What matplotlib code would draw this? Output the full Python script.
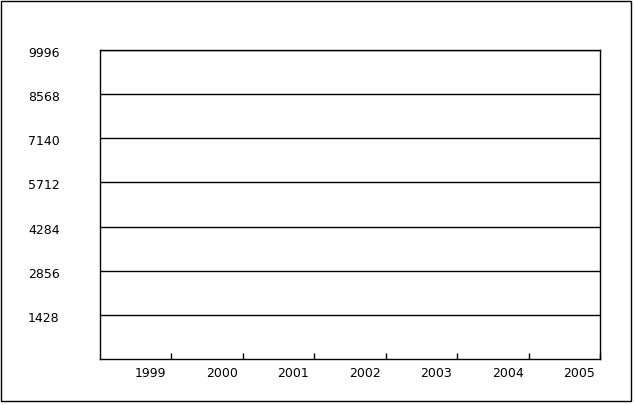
import matplotlib
matplotlib.use('Agg')
import matplotlib.pyplot as plt
import matplotlib.transforms as mtransforms
from matplotlib.patches import Rectangle

years = ['1999', '2000', '2001', '2002', '2003', '2004', '2005']
y_ticks = [1428, 2856, 4284, 5712, 7140, 8568, 9996]
y_max = 9996

W, H = 635, 405
fig = plt.figure(figsize=(W / 100, H / 100), dpi=100)
fig.patch.set_facecolor('white')

# outer frame
fig.add_artist(Rectangle((0.5 / W, 1 - 400.5 / H), 630 / W, 400 / H,
                         transform=fig.transFigure, fill=False,
                         edgecolor='black', linewidth=1))

ax = fig.add_axes([100 / W, (H - 359) / H, 500 / W, 309 / H])
ax.set_xlim(0, len(years))
ax.set_ylim(0, y_max)

for v in y_ticks:
    ax.axhline(v, color='black', linewidth=1)

for s in ax.spines.values():
    s.set_linewidth(1)
    s.set_color('black')

# x: tick marks at category boundaries, labels right-aligned just left of them
ax.set_xticks(range(1, len(years) + 1))
ax.set_xticklabels(years, fontsize=9, ha='right')
ax.tick_params(axis='x', direction='in', length=4.3, width=1, pad=6)
shift = mtransforms.ScaledTranslation(-5 / 100, 0, fig.dpi_scale_trans)
for lab in ax.get_xticklabels():
    lab.set_transform(lab.get_transform() + shift)

# y: labels left-aligned far to the left of the axis
ax.set_yticks(y_ticks)
ax.set_yticklabels([str(v) for v in y_ticks], fontsize=9, ha='left')
ax.tick_params(axis='y', length=0, pad=72 * 0.72)
yshift = mtransforms.ScaledTranslation(0, -2 / 100, fig.dpi_scale_trans)
for lab in ax.get_yticklabels():
    lab.set_transform(lab.get_transform() + yshift)

fig.savefig('out.png', dpi=100)
